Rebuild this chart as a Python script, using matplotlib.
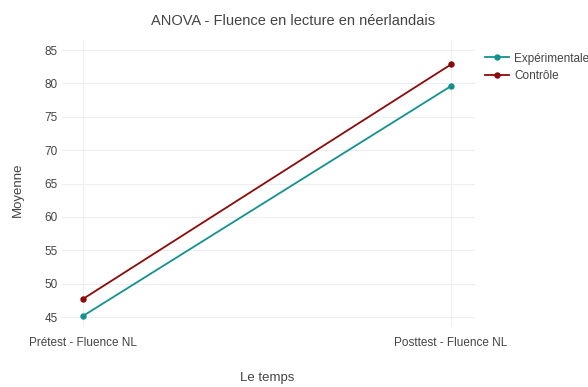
import matplotlib.pyplot as plt

plt.rcParams['font.family'] = ['Liberation Sans', 'DejaVu Sans']

temps = ["Prétest - Fluence NL", "Posttest - Fluence NL"]
experimentale = [45.15, 79.6]
controle = [47.7, 82.85]
yticks = [45, 50, 55, 60, 65, 70, 75, 80, 85]

txt = '#444444'
grid = '#eeeeee'

fig = plt.figure(figsize=(5.88, 3.87), dpi=100)
ax = fig.add_axes([0.1054, 0.155, 0.7024, 0.7416])

x = list(range(len(temps)))
ax.plot(x, experimentale, color='#13918f', lw=1.3, marker='o', ms=3.6, label='Expérimentale')
ax.plot(x, controle, color='#8b0a0a', lw=1.3, marker='o', ms=3.6, label='Contrôle')

ax.set_xlim(-0.057, 1.065)
ax.set_ylim(43.5, 86.5)
ax.set_xticks(x)
ax.set_xticklabels(temps)
ax.set_yticks(yticks)
ax.grid(True, color=grid, lw=0.8)
ax.set_axisbelow(True)
for s in ax.spines.values():
    s.set_visible(False)
ax.tick_params(length=0, labelsize=8.5, labelcolor=txt)
ax.tick_params(axis='x', pad=7)
ax.tick_params(axis='y', pad=3)

fig.text(0.498, 0.945, "ANOVA - Fluence en lecture en néerlandais", ha='center', va='center',
         fontsize=10.5, color=txt)
fig.text(0.454, 0.023, "Le temps", ha='center', va='center', fontsize=9.5, color=txt)
fig.text(0.030, 0.51, "Moyenne", ha='center', va='center', rotation=90, fontsize=9.5, color=txt)

ax.legend(loc='upper left', bbox_to_anchor=(1.005, 0.985), frameon=False, fontsize=8.5,
          handlelength=2.0, labelspacing=0.45, handletextpad=0.45, borderaxespad=0.3,
          labelcolor=txt)

fig.savefig("out.png", dpi=100)
